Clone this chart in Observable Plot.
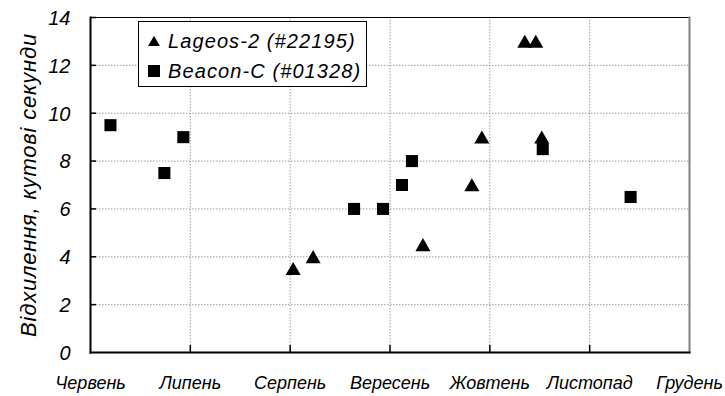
<!DOCTYPE html>
<html>
<head>
<meta charset="utf-8">
<script src="https://cdn.jsdelivr.net/npm/d3@7"></script>
<script src="https://cdn.jsdelivr.net/npm/@observablehq/plot@0.6"></script>
<style>
  html, body { margin: 0; padding: 0; background: #fff; }
  #wrap { position: relative; width: 725px; height: 396px; font-family: "Liberation Sans", Arial, sans-serif; }
  #legend { position: absolute; left: 138px; top: 21px; width: 227px; height: 64px; border: 1px solid #000; background: #fff;
    font-style: italic; font-size: 20px; letter-spacing: 1.1px; color: #000; }
  #legend .row { position: absolute; left: 8px; height: 24px; line-height: 24px; white-space: nowrap; }
  #legend svg { vertical-align: middle; margin-right: 7px; position: relative; top: -2px; }
</style>
</head>
<body>
<div id="wrap"></div>
<script>
// Month tick labels (x = months since 1 June)
const monthLabels = ["Червень", "Липень", "Серпень", "Вересень", "Жовтень", "Листопад", "Грудень"];
const yTicks = [0, 2, 4, 6, 8, 10, 12, 14];

// Lageos-2 (#22195) — triangles
const lageosX = [2.03, 2.23, 3.33, 3.82, 3.92, 4.35, 4.46, 4.52];
const lageosY = [3.5, 4, 4.5, 7, 9, 13, 13, 9];

// Beacon-C (#01328) — squares
const beaconX = [0.20, 0.74, 0.93, 2.64, 2.93, 3.12, 3.22, 4.53, 5.41];
const beaconY = [9.5, 7.5, 9, 6, 6, 7, 8, 8.5, 6.5];

const seriesNames = ["Lageos-2 (#22195)", "Beacon-C (#01328)"];
const yTitle = "Відхилення, кутові секунди";

const lageos = lageosX.map((x, i) => ({x, y: lageosY[i]}));
const beacon = beaconX.map((x, i) => ({x, y: beaconY[i]}));

const font = "Liberation Sans";
const chart = Plot.plot({
  width: 725,
  height: 396,
  marginLeft: 90,
  marginRight: 36,
  marginTop: 17,
  marginBottom: 44,
  style: {fontFamily: font, fontStyle: "italic", background: "white", color: "black"},
  x: {domain: [0, 6], ticks: d3.range(0, 7)},
  y: {domain: [0, 14], ticks: yTicks},
  marks: [
    Plot.gridY(yTicks.slice(1), {stroke: "#9a9a9a", strokeOpacity: 1, strokeDasharray: "1.5,1.5"}),
    Plot.gridX(d3.range(1, 6), {stroke: "#9a9a9a", strokeOpacity: 1, strokeDasharray: "1.5,1.5"}),
    Plot.frame({anchor: "top", stroke: "#000", strokeWidth: 1}),
    Plot.frame({anchor: "right", stroke: "#808080", strokeWidth: 2}),
    Plot.frame({anchor: "left", stroke: "#000", strokeWidth: 2}),
    Plot.frame({anchor: "bottom", stroke: "#000", strokeWidth: 2}),
    Plot.axisY(yTicks.slice(1), {tickSize: -6, tickFormat: () => "", label: null, strokeWidth: 1.5}),
    Plot.axisY(yTicks, {tickSize: 0, tickPadding: 20, fontSize: 20, label: null, dy: 1}),
    Plot.axisY({ticks: [], label: yTitle, labelAnchor: "center", labelArrow: "none", labelOffset: 70, fontSize: 22, dy: -12}),
    Plot.axisX(d3.range(1, 6), {tickSize: -7, tickFormat: () => "", label: null, strokeWidth: 1.5}),
    Plot.axisX(d3.range(0, 7), {tickSize: 0, tickPadding: 24, fontSize: 18, label: null, tickFormat: i => monthLabels[i]}),
    Plot.dot(lageos, {x: "x", y: "y", symbol: "triangle", r: 5.6, fill: "black", stroke: "none", dy: 2}),
    Plot.dot(beacon, {x: "x", y: "y", symbol: "square", r: 6.8, fill: "black", stroke: "none"})
  ]
});
// widen the rotated axis title a little, as in the reference
d3.select(chart).selectAll("[aria-label='y-axis label'] text").attr("letter-spacing", "0.8px");
const wrap = document.getElementById("wrap");
wrap.appendChild(chart);

// Legend (HTML overlay)
const legend = document.createElement("div");
legend.id = "legend";
const tri = `<svg width="14" height="14" viewBox="-7 -7 14 14"><path d="${d3.symbol(d3.symbolTriangle, 60)()}" transform="translate(0,1.5)" fill="black"/></svg>`;
const sq = `<svg width="14" height="14" viewBox="-7 -7 14 14"><rect x="-6" y="-6" width="12" height="12" fill="black"/></svg>`;
legend.innerHTML = `<div class="row" style="top:7px">${tri}${seriesNames[0]}</div><div class="row" style="top:37px">${sq}${seriesNames[1]}</div>`;
wrap.appendChild(legend);
</script>
</body>
</html>
